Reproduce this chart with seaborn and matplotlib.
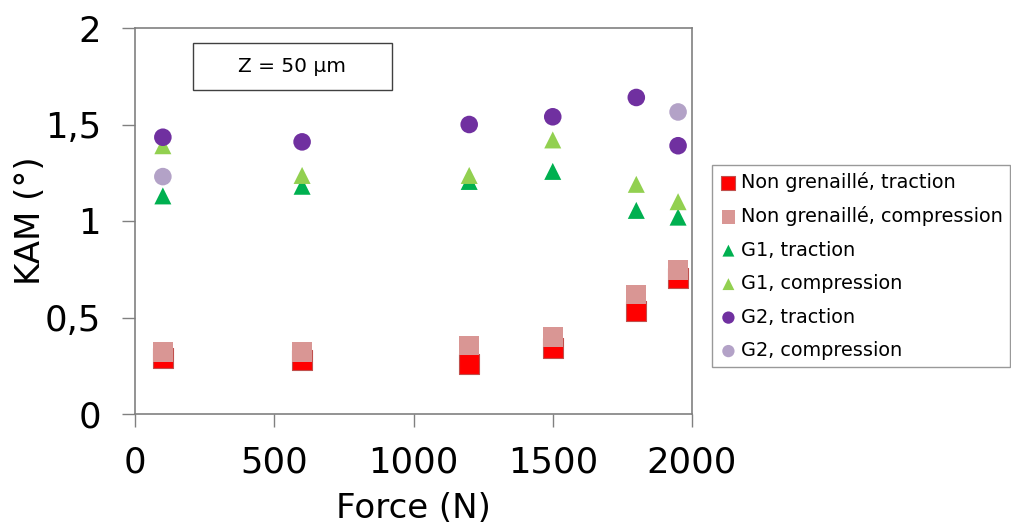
import numpy as np
import matplotlib
matplotlib.use("Agg")
import matplotlib.pyplot as plt
from matplotlib.patches import Rectangle
import pandas as pd
import seaborn as sns

force = [100, 600, 1200, 1500, 1800, 1950]

ng_traction = [0.29, 0.28, 0.26, 0.34, 0.535, 0.705]
ng_compression = [0.32, 0.32, 0.355, 0.40, 0.62, 0.745]
g1_traction = [1.13, 1.18, 1.205, 1.257, 1.055, 1.02]
g1_compression = [1.39, 1.236, 1.236, 1.42, 1.19, 1.10]
g2_traction = [1.434, 1.41, 1.50, 1.54, 1.64, 1.39]
g2_compression_force = [100, 1950]
g2_compression = [1.23, 1.565]

series = [
    ("Non grenaillé, traction", force, ng_traction, "#FF0000", "s", 200),
    ("Non grenaillé, compression", force, ng_compression, "#D99694", "s", 200),
    ("G1, traction", force, g1_traction, "#00B050", "^", 150),
    ("G1, compression", force, g1_compression, "#92D050", "^", 150),
    ("G2, traction", force, g2_traction, "#7030A0", "o", 160),
    ("G2, compression", g2_compression_force, g2_compression, "#B3A2C7", "o", 160),
]

sns.set_style("white")
plt.rcParams['font.family'] = ['DejaVu Sans']
plt.rcParams['text.color'] = 'black'
plt.rcParams['axes.labelcolor'] = 'black'
plt.rcParams['xtick.color'] = 'black'
plt.rcParams['ytick.color'] = 'black'

fig = plt.figure(figsize=(10.11, 5.27), dpi=100)
ax = fig.add_axes([135 / 1011, 1 - 414 / 527, (692 - 135) / 1011, (414 - 28) / 527])

for name, xs, ys, col, mk, sz in series:
    df = pd.DataFrame({"Force": xs, "KAM": ys})
    edge = "#C0504D" if col == "#FF0000" else "none"
    sns.scatterplot(data=df, x="Force", y="KAM", ax=ax, color=col, marker=mk,
                    s=sz, edgecolor=edge, linewidth=0.8, label=name, zorder=3)

ax.set_xlim(0, 2000)
ax.set_ylim(0, 2)
ax.set_xticks([0, 500, 1000, 1500, 2000])
ax.set_yticks([0, 0.5, 1, 1.5, 2])
ax.set_yticklabels(["0", "0,5", "1", "1,5", "2"])
ax.tick_params(axis="both", direction="out", length=9.5, width=1,
               labelsize=25.5, left=True, bottom=True, color="#808080")
ax.tick_params(axis="x", pad=13)
ax.tick_params(axis="y", pad=15)
for sp in ax.spines.values():
    sp.set_color("#808080")
    sp.set_linewidth(1.2)
ax.set_xlabel("Force (N)", fontsize=24.5, labelpad=9)
ax.set_ylabel("KAM (°)", fontsize=24.5, labelpad=-2)

ax.add_patch(Rectangle((58 / 557, 1 - 62 / 386), 199 / 557, 47 / 386,
                       transform=ax.transAxes, facecolor="white",
                       edgecolor="#404040", linewidth=1, zorder=4))
ax.text((58 + 199 / 2) / 557, 1 - 38 / 386, "Z = 50 µm", transform=ax.transAxes,
        fontsize=14.5, ha="center", va="center", zorder=5)

leg = ax.legend(loc="upper left", bbox_to_anchor=(712 / 1011, 1 - 165 / 527),
                bbox_transform=fig.transFigure, fontsize=13.9, frameon=True,
                fancybox=False, edgecolor="#808080", markerscale=0.7,
                handletextpad=0.15, handlelength=1.0, labelspacing=0.75,
                borderpad=0.35, borderaxespad=0)
leg.get_frame().set_linewidth(1)

fig.savefig("out.png", dpi=100)
